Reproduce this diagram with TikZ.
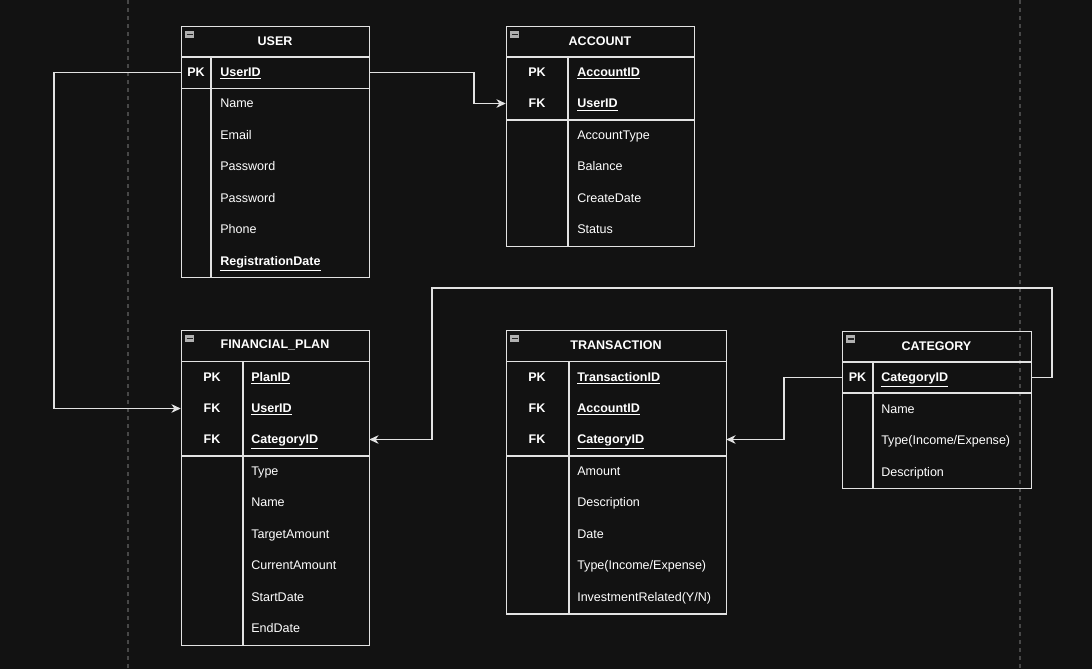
\documentclass[tikz,border=0pt]{standalone}
\usepackage{fontspec}
\setmainfont{Liberation Sans}
\usetikzlibrary{arrows.meta}
\definecolor{bg}{HTML}{121212}
\definecolor{ln}{HTML}{E2E2E2}
\definecolor{dashc}{HTML}{474747}
\definecolor{icof}{HTML}{B0B0B0}
\newcommand\tf{\fontsize{9.4}{11}\selectfont}
\begin{document}
\begin{tikzpicture}[x=0.75pt,y=-0.75pt,
  tbox/.style={draw=ln, line width=0.8pt, inner sep=0, anchor=north west},
  sep/.style={draw=ln, line width=0.8pt},
  port/.style={inner sep=0, minimum height=23.6pt},
  ttl/.style={text=white, font=\tf\bfseries, inner sep=0},
  keyl/.style={text=white, font=\tf\bfseries, inner sep=0, text height=7pt, text depth=2pt, yshift=-0.75pt},
  fld/.style={text=white, font=\tf, anchor=west, inner sep=0, text height=7pt, text depth=2pt, yshift=-0.75pt},
  kfld/.style={fld, font=\tf\bfseries},
  conn/.style={draw=ln, line width=0.8pt, -{Stealth[length=7pt,width=6.5pt,inset=2.2pt]}},
  dline/.style={draw=dashc, line width=0.8pt, dash pattern=on 3pt off 3pt}]
\useasboundingbox (0,0) rectangle (1092,669);
\fill[bg] (0,0) rectangle (1092,669);
\draw[dline] (128,0) -- (128,669);
\draw[dline] (1020,0) -- (1020,669);
% collapse icon
\newcommand\ico[2]{\fill[icof] (#1+4,#2+4.5) rectangle (#1+13,#2+12);
  \draw[black!85, line width=1.1pt] (#1+5.5,#2+8.3) -- (#1+11.5,#2+8.3);}

% ---------------- USER
\node[tbox, minimum width=141pt, minimum height=188.25pt] (user) at (181,26) {};
\ico{181}{26}
\node[ttl] (user-t) at (275,41) {USER};
\draw[sep] (181,57) -- (369,57);
\draw[sep] (181,88.5) -- (369,88.5);
\draw[sep] (211,57) -- (211,277);
\node[port, minimum width=141pt] (u-id) at (275,72.5) {};
\node[keyl] (u-pk) at (196,72) {PK};
\node[kfld] (u-f1) at (220,72) {\underline{UserID}};
\node[fld] (u-f2) at (220,103.5) {Name};
\node[fld] (u-f3) at (220,135) {Email};
\node[fld] (u-f4) at (220,166.5) {Password};
\node[fld] (u-f5) at (220,198) {Password};
\node[fld] (u-f6) at (220,229.5) {Phone};
\node[kfld] (u-f7) at (220,261) {\underline{RegistrationDate}};

% ---------------- ACCOUNT
\node[tbox, minimum width=141pt, minimum height=165pt] (acc) at (506,26) {};
\ico{506}{26}
\node[ttl] (acc-t) at (600,41) {ACCOUNT};
\draw[sep] (506,57) -- (694,57);
\draw[sep] (506,120) -- (694,120);
\draw[sep] (568,57) -- (568,246);
\node[port, minimum width=141pt] (a-uid) at (600,103.5) {};
\node[keyl] (a-pk) at (537,72) {PK};
\node[keyl] (a-fk) at (537,103.5) {FK};
\node[kfld] (a-f1) at (577,72) {\underline{AccountID}};
\node[kfld] (a-f2) at (577,103.5) {\underline{UserID}};
\node[fld] (a-f3) at (577,135) {AccountType};
\node[fld] (a-f4) at (577,166.5) {Balance};
\node[fld] (a-f5) at (577,198) {CreateDate};
\node[fld] (a-f6) at (577,229.5) {Status};

% ---------------- FINANCIAL_PLAN
\node[tbox, minimum width=141pt, minimum height=236.25pt] (fp) at (181,330) {};
\ico{181}{330}
\node[ttl] (fp-t) at (275,345) {FINANCIAL\_PLAN};
\draw[sep] (181,361.5) -- (369,361.5);
\draw[sep] (181,456) -- (369,456);
\draw[sep] (243,361.5) -- (243,645);
\node[port, minimum width=141pt] (f-uid) at (275,408.5) {};
\node[port, minimum width=141pt] (f-cid) at (275,439.5) {};
\node[keyl] (f-pk) at (212,377) {PK};
\node[keyl] (f-fk1) at (212,408) {FK};
\node[keyl] (f-fk2) at (212,439.5) {FK};
\node[kfld] (f-f1) at (251,377) {\underline{PlanID}};
\node[kfld] (f-f2) at (251,408) {\underline{UserID}};
\node[kfld] (f-f3) at (251,439.5) {\underline{CategoryID}};
\node[fld] (f-f4) at (251,471) {Type};
\node[fld] (f-f5) at (251,502.5) {Name};
\node[fld] (f-f6) at (251,534) {TargetAmount};
\node[fld] (f-f7) at (251,565.5) {CurrentAmount};
\node[fld] (f-f8) at (251,597) {StartDate};
\node[fld] (f-f9) at (251,628.5) {EndDate};

% ---------------- TRANSACTION
\node[tbox, minimum width=165pt, minimum height=212.6pt] (tr) at (506,330) {};
\ico{506}{330}
\node[ttl] (tr-t) at (616,345) {TRANSACTION};
\draw[sep] (506,361.5) -- (726,361.5);
\draw[sep] (506,456) -- (726,456);
\draw[sep] (569,361.5) -- (569,613.5);
\node[port, minimum width=165pt] (t-cid) at (616,439.5) {};
\node[keyl] (t-pk) at (537,377) {PK};
\node[keyl] (t-fk1) at (537,408) {FK};
\node[keyl] (t-fk2) at (537,439.5) {FK};
\node[kfld] (t-f1) at (577,377) {\underline{TransactionID}};
\node[kfld] (t-f2) at (577,408) {\underline{AccountID}};
\node[kfld] (t-f3) at (577,439.5) {\underline{CategoryID}};
\node[fld] (t-f4) at (577,471) {Amount};
\node[fld] (t-f5) at (577,502.5) {Description};
\node[fld] (t-f6) at (577,534) {Date};
\node[fld] (t-f7) at (577,565.5) {Type(Income/Expense)};
\node[fld] (t-f8) at (577,597) {InvestmentRelated(Y/N)};

% ---------------- CATEGORY
\node[tbox, minimum width=141.75pt, minimum height=117.75pt] (cat) at (842,330.5) {};
\ico{842}{330.5}
\node[ttl] (cat-t) at (936.5,346) {CATEGORY};
\draw[sep] (842,362) -- (1031,362);
\draw[sep] (842,393) -- (1031,393);
\draw[sep] (873,362) -- (873,488.25);
\node[port, minimum width=141.75pt] (c-id) at (936.5,377.5) {};
\node[keyl] (c-pk) at (857.5,377.5) {PK};
\node[kfld] (c-f1) at (881,377.5) {\underline{CategoryID}};
\node[fld] (c-f2) at (881,409) {Name};
\node[fld] (c-f3) at (881,440.5) {Type(Income/Expense)};
\node[fld] (c-f4) at (881,472) {Description};

% ---------------- connectors
\coordinate (b1) at (474,0);
\coordinate (b2) at (54,0);
\coordinate (k1) at (1052,288);
\coordinate (k2) at (432,288);
\coordinate (b4) at (784,0);
\draw[conn] (u-id.east) -- (u-id.east -| b1) |- (a-uid.west);
\draw[conn] (u-id.west) -- (u-id.west -| b2) |- (f-uid.west);
\draw[conn] (c-id.east) -| (k1) -- (k2) |- (f-cid.east);
\draw[conn] (c-id.west) -- (c-id.west -| b4) |- (t-cid.east);
\end{tikzpicture}
\end{document}
